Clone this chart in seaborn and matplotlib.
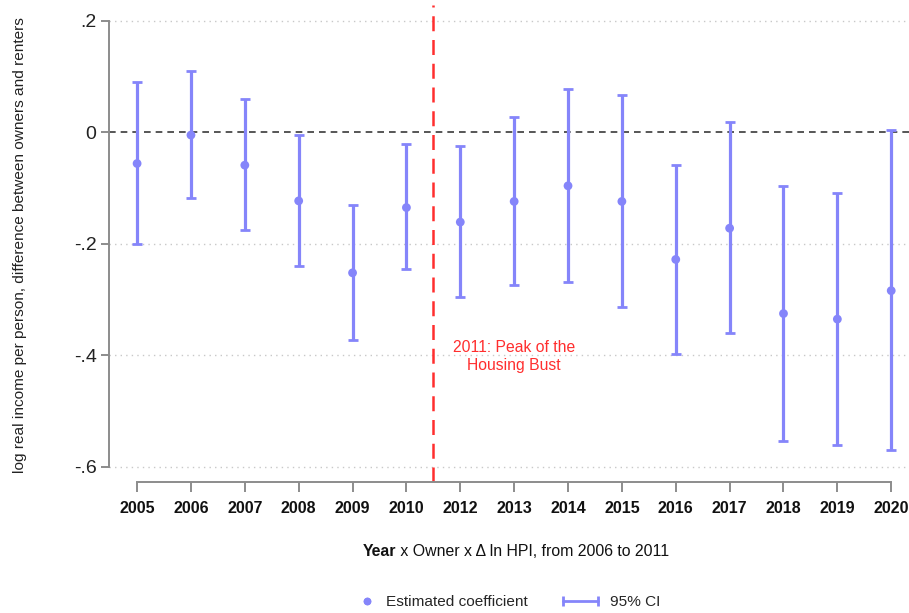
import numpy as np
import pandas as pd
import matplotlib
matplotlib.use("Agg")
import matplotlib.pyplot as plt
from matplotlib.lines import Line2D
from matplotlib.legend_handler import HandlerLine2D
import seaborn as sns

# Event-study coefficients: owners vs renters, by year
years = ["2005", "2006", "2007", "2008", "2009", "2010", "2012", "2013",
         "2014", "2015", "2016", "2017", "2018", "2019", "2020"]
coef = [-0.056, -0.005, -0.059, -0.123, -0.252, -0.135, -0.161, -0.124,
        -0.096, -0.124, -0.228, -0.172, -0.325, -0.335, -0.284]
ci_low = [-0.200, -0.118, -0.175, -0.239, -0.373, -0.246, -0.296, -0.274,
          -0.268, -0.313, -0.397, -0.359, -0.553, -0.560, -0.570]
ci_high = [0.091, 0.109, 0.060, -0.005, -0.131, -0.021, -0.025, 0.027,
           0.077, 0.067, -0.058, 0.018, -0.096, -0.109, 0.004]
y_ticks = [0.2, 0.0, -0.2, -0.4, -0.6]
y_tick_labels = [".2", "0", "-.2", "-.4", "-.6"]

df = pd.DataFrame({"year": years, "coef": coef, "lo": ci_low, "hi": ci_high})
df["pos"] = np.arange(len(df))

sns.set_theme(style="white")
plt.rcParams["font.family"] = ["Liberation Sans", "DejaVu Sans"]

BLUE = "#8585fa"
RED = "#ff2e2e"
SPINE = "#8c8c8c"


class RightDotHandler(HandlerLine2D):
    """Draws the legend marker near the right end of its handle box."""

    def get_xdata(self, legend, xdescent, ydescent, width, height, fontsize):
        x = -xdescent + width - 0.7 * fontsize
        return [x, x], [x, x]


fig = plt.figure(figsize=(9.09, 6.13), dpi=100)
ax = fig.add_axes([0.12, 0.2137, 0.88, 0.778])

# confidence intervals
ax.errorbar(df["pos"], df["coef"],
            yerr=[df["coef"] - df["lo"], df["hi"] - df["coef"]],
            fmt="none", ecolor=BLUE, elinewidth=2.3, capsize=3.8,
            capthick=2.0, zorder=3)
# point estimates
sns.scatterplot(data=df, x="pos", y="coef", color=BLUE, s=40,
                edgecolor="none", ax=ax, zorder=4, legend=False)

# reference lines
ax.axhline(0, color="#3a3a3a", lw=1.2, ls=(0, (4, 3)), zorder=2)
for yv in [0.2, -0.2, -0.4, -0.6]:
    ax.axhline(yv, color="#c8c8c8", lw=1.0, ls=(0, (1, 3)), zorder=1)
ax.axvline(5.5, color=RED, lw=1.8, ls=(0, (6, 3.5)), zorder=2)
ax.text(7.0, -0.402, "2011: Peak of the\nHousing Bust", color=RED,
        ha="center", va="center", fontsize=11.3, linespacing=1.3)

ax.set_xlim(-0.52, 14.33)
ax.set_ylim(-0.627, 0.228)

# axes styling
for side in ["top", "right"]:
    ax.spines[side].set_visible(False)
ax.spines["left"].set_bounds(-0.6, 0.2)
ax.spines["bottom"].set_bounds(0, len(years) - 1)
for side in ["left", "bottom"]:
    ax.spines[side].set_color(SPINE)
    ax.spines[side].set_linewidth(1.4)

ax.set_yticks(y_ticks)
ax.set_yticklabels(y_tick_labels, fontsize=14, color="#222222")
ax.set_xticks(df["pos"])
ax.set_xticklabels(years, fontsize=11.5, fontweight="bold", color="#111111")
ax.tick_params(axis="y", direction="out", length=6, width=1.4, color=SPINE, pad=3,
               left=True)
ax.tick_params(axis="x", direction="out", length=7, width=1.4, color=SPINE, pad=7,
               bottom=True)
ax.set_xlabel("")
ax.set_ylabel("log real income per person, difference between owners and renters",
              fontsize=11.1, color="#222222")
ax.yaxis.set_label_coords(-0.1025, 0.497)

# x-axis title with a bold first word
t1 = fig.text(363 / 909, 1 - 551 / 613, "Year", fontsize=11.4, fontweight="bold",
              color="#111111", va="center", ha="left")
ax.annotate(" x Owner x \u0394 ln HPI, from 2006 to 2011", xy=(1, 0.5),
            xycoords=t1, va="center", ha="left", fontsize=11.4, color="#111111",
            annotation_clip=False)

# legend
h_pt = Line2D([], [], marker="o", ls="none", color=BLUE, markersize=5.5,
              markeredgewidth=0)
h_ci = Line2D([0, 1], [0, 0], color=BLUE, lw=2.0, marker="|", markersize=7,
              markeredgewidth=2.0)
fig.legend([h_pt, h_ci], ["Estimated coefficient", "95% CI"],
           handler_map={h_ci: HandlerLine2D(numpoints=2),
                        h_pt: RightDotHandler(numpoints=2)},
           loc="center", bbox_to_anchor=(497 / 909, 1 - 602 / 613), ncol=2,
           frameon=False, fontsize=11.1, handlelength=2.9, columnspacing=2.0,
           handletextpad=0.48)

fig.savefig("out.png", dpi=100)
